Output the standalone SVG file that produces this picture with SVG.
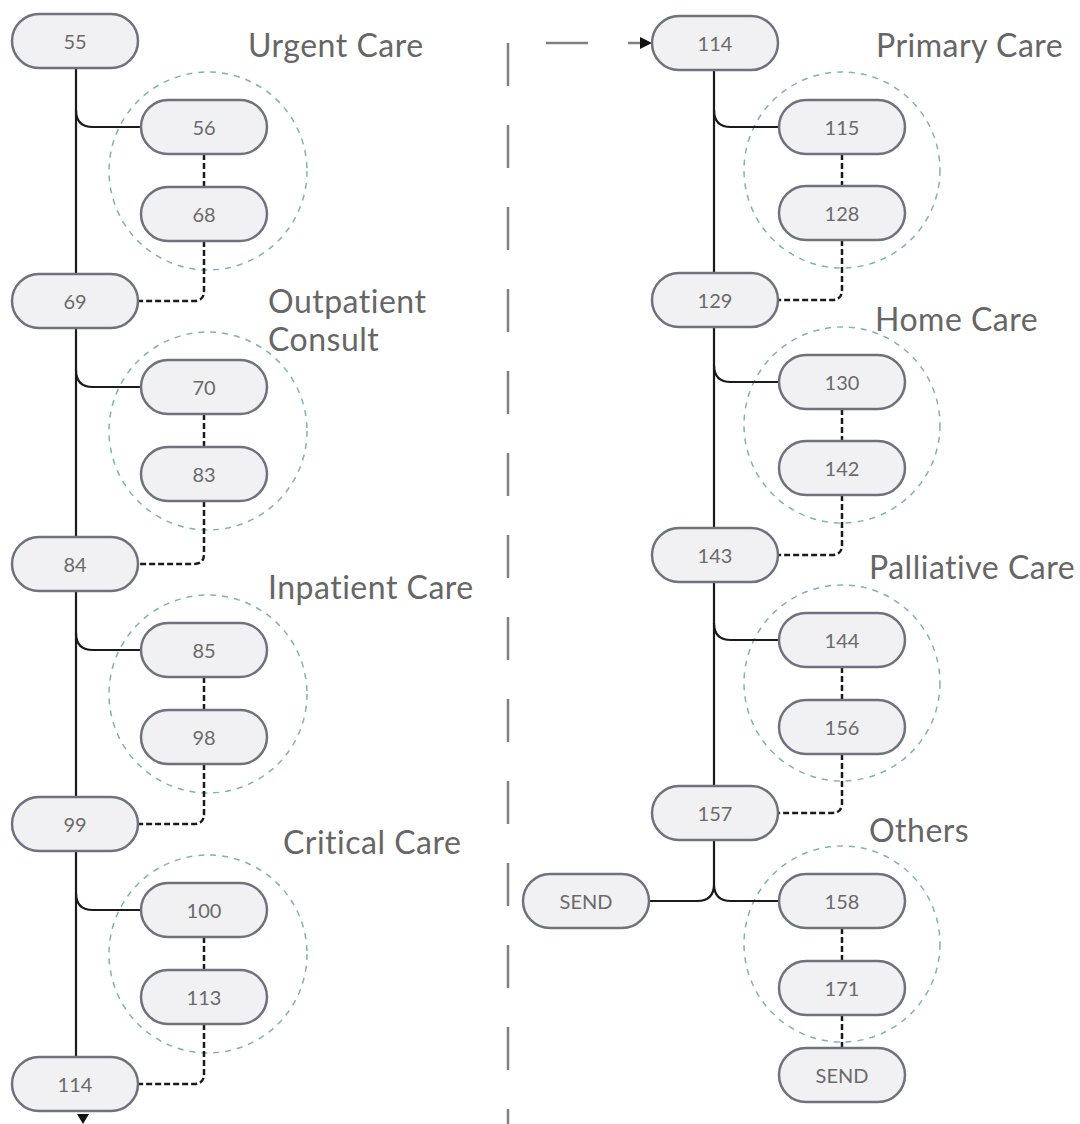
<svg xmlns="http://www.w3.org/2000/svg" width="1080" height="1124" viewBox="0 0 1080 1124">
<style>
.node rect{fill:#f1f1f3;stroke:#6c737e;stroke-width:2.5}
.node text{font-family:Lato,"Liberation Sans",sans-serif;font-size:20px;fill:#6a6a6a;text-anchor:middle;dominant-baseline:central}
.grp{fill:none;stroke:#7fb2b5;stroke-width:1.5;stroke-dasharray:6 6}
.lbl{font-family:Lato,"Liberation Sans",sans-serif;font-size:32px;letter-spacing:0.5px;font-variant-ligatures:none;fill:#666}
.solid{fill:none;stroke:#1a1a1a;stroke-width:2.2}
.dash{fill:none;stroke:#1a1a1a;stroke-width:2.5;stroke-dasharray:6 3}
.link{fill:none;stroke:#808080;stroke-width:2.5}
</style>
<rect width="1080" height="1124" fill="#fff"/>
<g id="groups">
<circle class="grp" cx="208" cy="171" r="99"/>
<circle class="grp" cx="208" cy="431" r="99"/>
<circle class="grp" cx="208" cy="694" r="99"/>
<circle class="grp" cx="208" cy="954" r="99"/>
<circle class="grp" cx="842" cy="170" r="98"/>
<circle class="grp" cx="842" cy="425" r="98"/>
<circle class="grp" cx="842" cy="683" r="98"/>
<circle class="grp" cx="842" cy="944" r="98"/>
</g>
<g id="labels">
<text class="lbl" x="248" y="57">Urgent Care</text>
<text class="lbl" x="268" y="313">Outpatient</text>
<text class="lbl" x="268" y="351">Consult</text>
<text class="lbl" x="268" y="599">Inpatient Care</text>
<text class="lbl" x="283" y="854">Critical Care</text>
<text class="lbl" x="876" y="57">Primary Care</text>
<text class="lbl" x="875" y="331">Home Care</text>
<text class="lbl" x="869" y="579">Palliative Care</text>
<text class="lbl" x="869" y="842">Others</text>
</g>
<g id="connectors">
<path class="solid" d="M76,68 V274 M76,327 V537 M76,591 V797 M76,851 V1057"/>
<path class="solid" d="M76,110 Q76,127 93,127 H141 M76,370 Q76,387 93,387 H141 M76,633 Q76,650 93,650 H141 M76,893 Q76,910 93,910 H141"/>
<path class="dash" d="M204,154 V187 M204,414 V447 M204,677 V710 M204,937 V970"/>
<path class="dash" d="M204,241 V291 Q204,301 194,301 H138 M204,501 V554 Q204,564 194,564 H138 M204,764 V814 Q204,824 194,824 H138 M204,1024 V1074 Q204,1084 194,1084 H138"/>
<path class="solid" d="M714,70 V273 M714,327 V528 M714,582 V786"/>
<path class="solid" d="M714,110 Q714,127 731,127 H779 M714,365 Q714,382 731,382 H779 M714,623 Q714,640 731,640 H779"/>
<path class="solid" d="M714,840 V884 Q714,901 697,901 H648 M714,884 Q714,901 731,901 H779"/>
<path class="dash" d="M842,154 V186 M842,409 V441 M842,667 V700 M842,928 V961 M842,1015 V1048"/>
<path class="dash" d="M842,240 V290 Q842,300 832,300 H777 M842,495 V545 Q842,555 832,555 H777 M842,754 V803 Q842,813 832,813 H777"/>
<path class="link" d="M508,43 V1124" stroke-dasharray="43 39"/>
<path class="link" d="M546,43 H588 M628,43 H642"/>
<polygon points="640,37 652,43 640,49" fill="#111"/>
<polygon points="77,1114 89,1114 83,1124" fill="#111"/>
</g>
<g id="n55" class="node"><rect x="12" y="14" width="126" height="54" rx="27"/><text x="75" y="41">55</text></g>
<g id="n56" class="node"><rect x="141" y="100" width="126" height="54" rx="27"/><text x="204" y="127">56</text></g>
<g id="n68" class="node"><rect x="141" y="187" width="126" height="54" rx="27"/><text x="204" y="214">68</text></g>
<g id="n69" class="node"><rect x="12" y="274" width="126" height="54" rx="27"/><text x="75" y="301">69</text></g>
<g id="n70" class="node"><rect x="141" y="360" width="126" height="54" rx="27"/><text x="204" y="387">70</text></g>
<g id="n83" class="node"><rect x="141" y="447" width="126" height="54" rx="27"/><text x="204" y="474">83</text></g>
<g id="n84" class="node"><rect x="12" y="537" width="126" height="54" rx="27"/><text x="75" y="564">84</text></g>
<g id="n85" class="node"><rect x="141" y="623" width="126" height="54" rx="27"/><text x="204" y="650">85</text></g>
<g id="n98" class="node"><rect x="141" y="710" width="126" height="54" rx="27"/><text x="204" y="737">98</text></g>
<g id="n99" class="node"><rect x="12" y="797" width="126" height="54" rx="27"/><text x="75" y="824">99</text></g>
<g id="n100" class="node"><rect x="141" y="883" width="126" height="54" rx="27"/><text x="204" y="910">100</text></g>
<g id="n113" class="node"><rect x="141" y="970" width="126" height="54" rx="27"/><text x="204" y="997">113</text></g>
<g id="n114a" class="node"><rect x="12" y="1057" width="126" height="54" rx="27"/><text x="75" y="1084">114</text></g>
<g id="n114b" class="node"><rect x="652" y="16" width="126" height="54" rx="27"/><text x="715" y="43">114</text></g>
<g id="n115" class="node"><rect x="779" y="100" width="126" height="54" rx="27"/><text x="842" y="127">115</text></g>
<g id="n128" class="node"><rect x="779" y="186" width="126" height="54" rx="27"/><text x="842" y="213">128</text></g>
<g id="n129" class="node"><rect x="652" y="273" width="126" height="54" rx="27"/><text x="715" y="300">129</text></g>
<g id="n130" class="node"><rect x="779" y="355" width="126" height="54" rx="27"/><text x="842" y="382">130</text></g>
<g id="n142" class="node"><rect x="779" y="441" width="126" height="54" rx="27"/><text x="842" y="468">142</text></g>
<g id="n143" class="node"><rect x="652" y="528" width="126" height="54" rx="27"/><text x="715" y="555">143</text></g>
<g id="n144" class="node"><rect x="779" y="613" width="126" height="54" rx="27"/><text x="842" y="640">144</text></g>
<g id="n156" class="node"><rect x="779" y="700" width="126" height="54" rx="27"/><text x="842" y="727">156</text></g>
<g id="n157" class="node"><rect x="652" y="786" width="126" height="54" rx="27"/><text x="715" y="813">157</text></g>
<g id="send1" class="node"><rect x="523" y="874" width="126" height="54" rx="27"/><text x="586" y="901">SEND</text></g>
<g id="n158" class="node"><rect x="779" y="874" width="126" height="54" rx="27"/><text x="842" y="901">158</text></g>
<g id="n171" class="node"><rect x="779" y="961" width="126" height="54" rx="27"/><text x="842" y="988">171</text></g>
<g id="send2" class="node"><rect x="779" y="1048" width="126" height="54" rx="27"/><text x="842" y="1075">SEND</text></g>
</svg>
